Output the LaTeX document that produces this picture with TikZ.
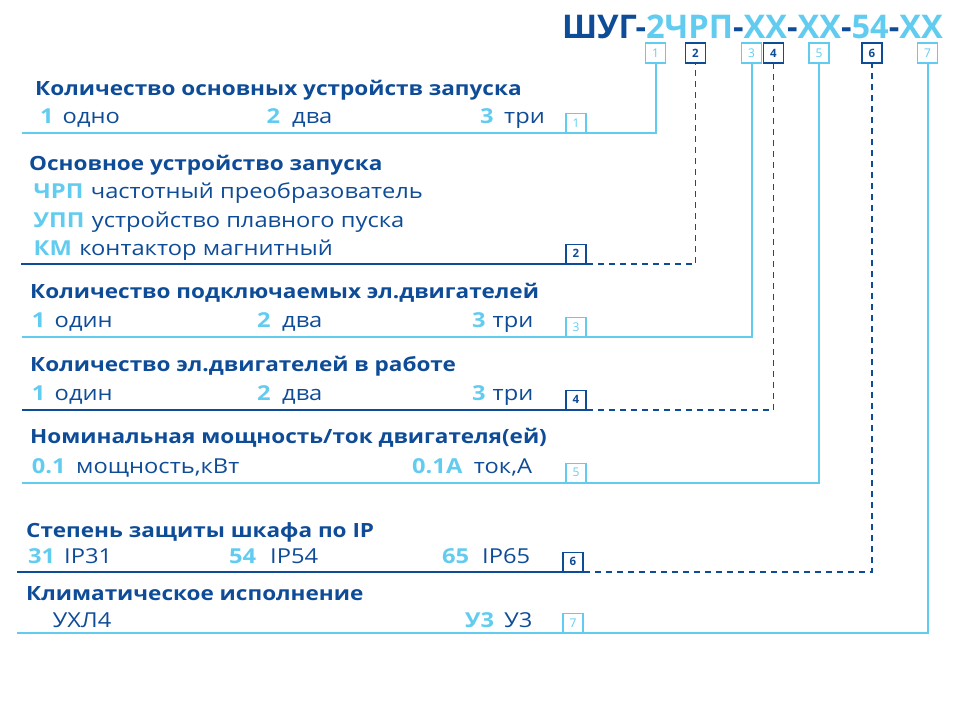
\documentclass[tikz,border=0pt]{standalone}
\usepackage{fontspec}
\setmainfont{Open Sans}
\newfontfamily\widefont{Open Sans}[FakeStretch=1.15]
\definecolor{dblue}{HTML}{0F4C97}
\definecolor{lblue}{HTML}{62CCF0}
\tikzset{
  head/.style={anchor=base west, inner sep=0pt, text=dblue, font=\widefont\fontsize{19.6}{19.6}\selectfont\bfseries},
  opt/.style={anchor=base west, inner sep=0pt, text=dblue, font=\widefont\fontsize{20.6}{20.6}\selectfont},
  key/.style={anchor=base west, inner sep=0pt, text=lblue, font=\widefont\fontsize{20.6}{20.6}\selectfont\bfseries},
  topbox/.style={draw, line width=1.5pt, minimum width=20pt, minimum height=20pt, inner sep=0pt, font=\fontsize{12}{12}\selectfont},
  tagbox/.style={draw, line width=1.5pt, anchor=south, minimum width=20pt, minimum height=19pt, inner sep=0pt, font=\fontsize{12}{12}\selectfont},
  light/.style={draw=lblue, text=lblue},
  dark/.style={draw=dblue, text=dblue, font=\fontsize{11.5}{11.5}\selectfont\bfseries},
  lline/.style={lblue, line width=2pt},
  dline/.style={dblue, line width=2pt},
  dashline/.style={dblue, line width=1.5pt, dash pattern=on 6pt off 5pt},
}
\begin{document}
\begin{tikzpicture}[x=1pt, y=-1pt]
    \useasboundingbox (0,0) rectangle (969,715);

    % Code
    \node[anchor=base east, inner sep=0pt, font=\fontsize{32.6}{32.6}\selectfont\bfseries] (code) at (943,38)
        {\textcolor{dblue}{ШУГ-}\textcolor{lblue}{2ЧРП}\textcolor{dblue}{-}\textcolor{lblue}{XX}\textcolor{dblue}{-}\textcolor{lblue}{XX}\textcolor{dblue}{-}\textcolor{lblue}{54}\textcolor{dblue}{-}\textcolor{lblue}{XX}};

    % Position boxes
    \node[topbox, light] (t1) at (655.5,53) {1};
    \node[topbox, dark]  (t2) at (695.5,53) {2};
    \node[topbox, light] (t3) at (751.5,53) {3};
    \node[topbox, dark]  (t4) at (773.5,53) {4};
    \node[topbox, light] (t5) at (819,53) {5};
    \node[topbox, dark]  (t6) at (872,53) {6};
    \node[topbox, light] (t7) at (927.5,53) {7};

    % 1
    \node[head] (h1) at (35,95) {Количество основных устройств запуска};
    \node[key] (k11) at (40,123) {1};   \node[opt] (o11) at (62.5,123) {одно};
    \node[key] (k12) at (266.5,123) {2}; \node[opt] (o12) at (292,123) {два};
    \node[key] (k13) at (480,123) {3};  \node[opt] (o13) at (504,123) {три};
    \node[tagbox, light] (b1) at (576,133) {1};
    \coordinate (l1) at (22,133);
    \draw[lline] (t1.south) |- (l1);

    % 2
    \node[head] (h2) at (29,170) {Основное устройство запуска};
    \node[key] (k21) at (33.5,198) {ЧРП}; \node[opt] (o21) at ([xshift=7pt]k21.base east) {частотный преобразователь};
    \node[key] (k22) at (33.5,227) {УПП}; \node[opt] (o22) at ([xshift=7pt]k22.base east) {устройство плавного пуска};
    \node[key] (k23) at (33.5,255) {КМ};  \node[opt] (o23) at ([xshift=7pt]k23.base east) {контактор магнитный};
    \node[tagbox, dark] (b2) at (576,264) {2};
    \coordinate (l2) at (21,264);
    \draw[dline] (l2) -- (b2.south east);
    \draw[dashline] (b2.south east) -| (t2.south);

    % 3
    \node[head] (h3) at (30,298) {Количество подключаемых эл.двигателей};
    \node[key] (k31) at (31.6,327) {1}; \node[opt] (o31) at (54.5,327) {один};
    \node[key] (k32) at (257,327) {2};  \node[opt] (o32) at (282,327) {два};
    \node[key] (k33) at (472,327) {3};  \node[opt] (o33) at (492.5,327) {три};
    \node[tagbox, light] (b3) at (576,337) {3};
    \coordinate (l3) at (22,337);
    \draw[lline] (t3.south) |- (l3);

    % 4
    \node[head] (h4) at (30,371) {Количество эл.двигателей в работе};
    \node[key] (k41) at (31.6,400) {1}; \node[opt] (o41) at (54.5,400) {один};
    \node[key] (k42) at (257,400) {2};  \node[opt] (o42) at (282,400) {два};
    \node[key] (k43) at (472,400) {3};  \node[opt] (o43) at (492.5,400) {три};
    \node[tagbox, dark] (b4) at (576,410) {4};
    \coordinate (l4) at (22,410);
    \draw[dline] (l4) -- (b4.south east);
    \draw[dashline] (b4.south east) -| (t4.south);

    % 5
    \node[head] (h5) at (30,443) {Номинальная мощность/ток двигателя(ей)};
    \node[key] (k51) at (31.6,473) {0.1};  \node[opt] (o51) at (76,473) {мощность,кВт};
    \node[key] (k52) at (412,473) {0.1А};  \node[opt] (o52) at (473.6,473) {ток,А};
    \node[tagbox, light] (b5) at (576,483) {5};
    \coordinate (l5) at (22,483);
    \draw[lline] (t5.south) |- (l5);

    % 6
    \node[head] (h6) at (26,537) {Степень защиты шкафа по IP};
    \node[key] (k61) at (28,563) {31};  \node[opt] (o61) at (64,563) {IP31};
    \node[key] (k62) at (229,563) {54}; \node[opt] (o62) at (270,563) {IP54};
    \node[key] (k63) at (442,563) {65}; \node[opt] (o63) at (482,563) {IP65};
    \node[tagbox, dark] (b6) at (573,572) {6};
    \coordinate (l6) at (17,572);
    \draw[dline] (l6) -- (b6.south east);
    \draw[dashline] (b6.south east) -| (t6.south);

    % 7
    \node[head] (h7) at (26,600) {Климатическое исполнение};
    \node[opt] (o71) at (52.5,627) {УХЛ4};
    \node[key] (k72) at (465,627) {У3}; \node[opt] (o72) at (504,627) {У3};
    \node[tagbox, light] (b7) at (573,633) {7};
    \coordinate (l7) at (17,633);
    \draw[lline] (t7.south) |- (l7);
\end{tikzpicture}
\end{document}
